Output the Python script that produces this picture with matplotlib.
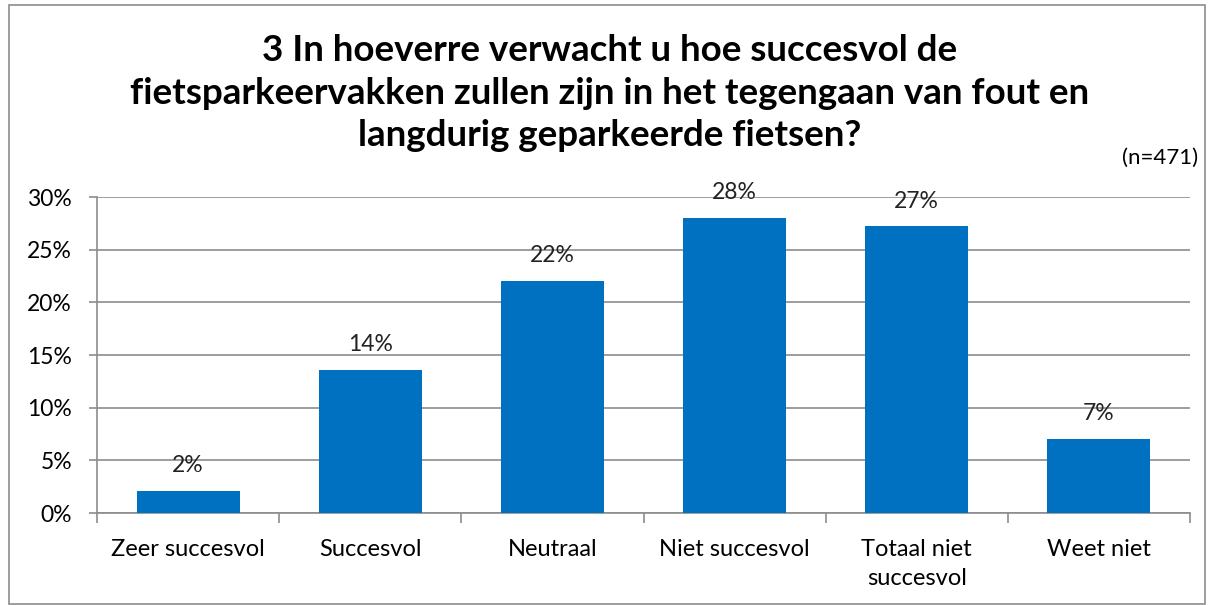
import matplotlib.pyplot as plt
from matplotlib.patches import Rectangle
import numpy as np

categories = ["Zeer succesvol", "Succesvol", "Neutraal", "Niet succesvol", "Totaal niet\nsuccesvol", "Weet niet"]
values = [2.1, 13.6, 22.0, 28.0, 27.2, 7.0]
labels = ["2%", "14%", "22%", "28%", "27%", "7%"]
yticks = [0, 5, 10, 15, 20, 25, 30]

title = ("3 In hoeverre verwacht u hoe succesvol de\n"
         "fietsparkeervakken zullen zijn in het tegengaan van fout en\n"
         "langdurig geparkeerde fietsen?")

plt.rcParams['font.family'] = ['Lato', 'DejaVu Sans']

fig = plt.figure(figsize=(12.14, 6.05), dpi=100)
ax = fig.add_axes([97 / 1214, 1 - 513 / 605, (1190 - 97) / 1214, (513 - 197) / 605])

x = np.arange(len(categories))
ax.bar(x, values, width=0.565, color="#0070C0", zorder=3)
for xi, v, lab in zip(x, values, labels):
    ax.text(xi, v + 2.4, lab, ha="center", va="center", fontsize=16.5, color="#222222")

ax.set_xlim(-0.5, len(categories) - 0.5)
ax.set_ylim(0, 30)
ax.set_yticks(yticks)
ax.set_yticklabels([f"{t}%" for t in yticks], fontsize=16.5)
ax.yaxis.grid(True, color="#8c8c8c", linewidth=1.2, zorder=0)
ax.tick_params(axis="y", length=6, color="#8c8c8c", width=1.2, pad=12)

ax.set_xticks(x)
ax.set_xticklabels(categories, fontsize=17, linespacing=1.45, va="top")
ax.tick_params(axis="x", length=0, pad=19)
ax.set_xticks(np.arange(-0.5, len(categories)), minor=True)
ax.tick_params(axis="x", which="minor", length=7, color="#8c8c8c", width=1.2)

for s in ["top", "right"]:
    ax.spines[s].set_visible(False)
for s in ["left", "bottom"]:
    ax.spines[s].set_color("#8c8c8c")
    ax.spines[s].set_linewidth(1.2)

fig.text(610 / 1214, 1 - 93 / 605, title, ha="center", va="center",
         fontsize=26.5, fontweight="bold", linespacing=1.35)
fig.text(1198 / 1214, 1 - 158 / 605, "(n=471)", ha="right", va="center", fontsize=16)

fig.patches.append(Rectangle((9 / 1214, 0.002), 1 - 18 / 1214, 0.99, transform=fig.transFigure,
                             fill=False, edgecolor="#8c8c8c", linewidth=1.2))

fig.savefig("out.png", dpi=100)
